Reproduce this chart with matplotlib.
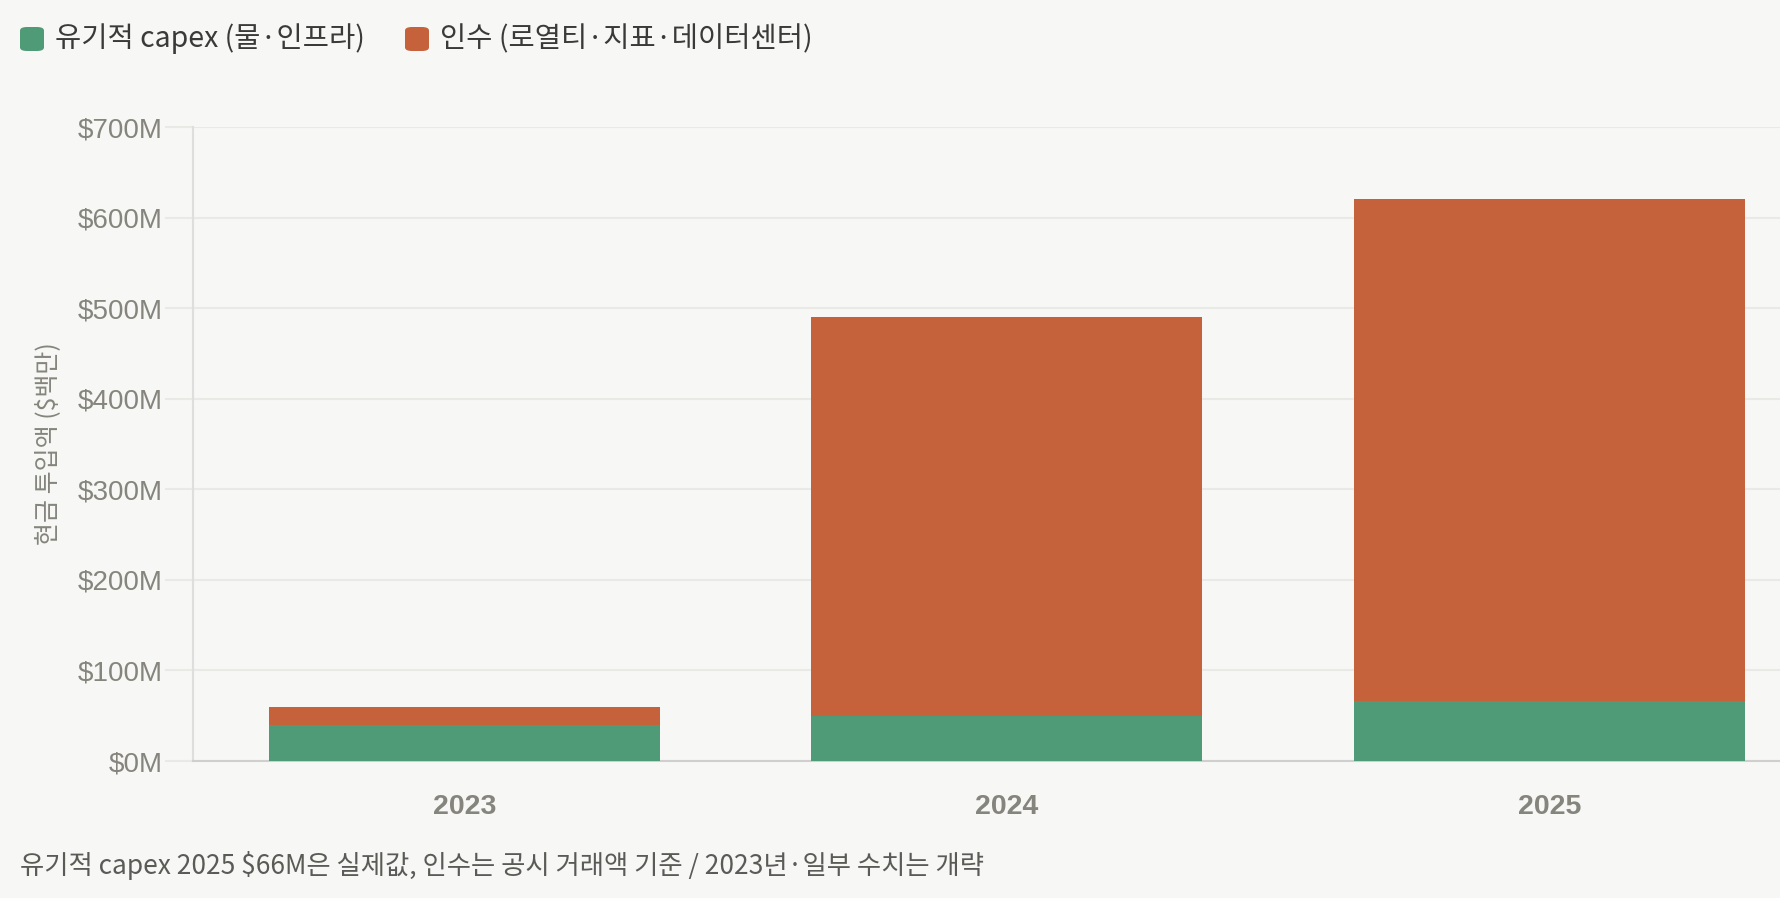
"""
현금 투입액: 유기적 capex vs 인수 (2023-2025), 누적 막대 차트
"""

import matplotlib
matplotlib.use("Agg")
import matplotlib.pyplot as plt
from matplotlib.patches import FancyBboxPatch

# === DATA ================================================================== #

years = ["2023", "2024", "2025"]
organic_capex = [40, 50, 66]        # $M, 유기적 capex (물·인프라)
acquisitions = [20, 440, 554]       # $M, 인수 (로열티·지표·데이터센터)
y_ticks = [0, 100, 200, 300, 400, 500, 600, 700]

legend_labels = ["유기적 capex (물·인프라)", "인수 (로열티·지표·데이터센터)"]
y_label = "현금 투입액 ($백만)"
footnote = "유기적 capex 2025 $66M은 실제값, 인수는 공시 거래액 기준 / 2023년·일부 수치는 개략"

# === STYLE ================================================================= #

BG = "#f7f7f5"
GREEN = "#4f9a77"
ORANGE = "#c5623b"
GRID = "#e9e9e6"
TICK_GRAY = "#85857d"
TEXT_DARK = "#3a3a38"

plt.rcParams["font.family"] = ["Liberation Sans", "Noto Sans CJK KR", "DejaVu Sans"]
KR = ["Noto Sans CJK KR", "DejaVu Sans"]

W, H = 1780, 898
fig = plt.figure(figsize=(W / 100, H / 100), dpi=100, facecolor=BG)

left, right_px, top_px, bottom_px = 193, 1780, 127, 761
ax = fig.add_axes([left / W, 1 - bottom_px / H,
                   (right_px - left) / W, (bottom_px - top_px) / H])
ax.set_facecolor(BG)

x = list(range(len(years)))
ax.bar(x, organic_capex, width=0.72, color=GREEN, zorder=3)
ax.bar(x, acquisitions, width=0.72, bottom=organic_capex, color=ORANGE, zorder=3)

band = 542.5
ax.set_xlim(-0.5, -0.5 + (right_px - left) / band)
ax.set_ylim(0, 700)

ax.set_yticks(y_ticks)
ax.set_yticklabels([f"${v}M" for v in y_ticks], fontsize=20, color=TICK_GRAY)
ax.set_xticks(x)
ax.set_xticklabels(years, fontsize=20.5, fontweight="bold", color=TICK_GRAY)

ax.grid(axis="y", color=GRID, linewidth=1.5, zorder=0)
ax.tick_params(axis="y", length=20, color=GRID, width=1.5, pad=2)
ax.tick_params(axis="x", length=0, pad=24)

for side in ["top", "right"]:
    ax.spines[side].set_visible(False)
ax.spines["left"].set_color("#dedede")
ax.spines["left"].set_linewidth(1.5)
ax.spines["bottom"].set_color("#cfcfcf")
ax.spines["bottom"].set_linewidth(1.5)

ax.set_ylabel(y_label, fontsize=18, color=TICK_GRAY, family=KR, labelpad=12)

# legend along the top: rounded swatches + labels
legend_y = 1 - 39 / H
swatch_x = [20, 405]
for sx, label, color in zip(swatch_x, legend_labels, [GREEN, ORANGE]):
    fig.patches.append(FancyBboxPatch(
        (sx / W, legend_y - 12 / H), 24 / W, 24 / H,
        boxstyle="round,pad=0,rounding_size=0.004",
        transform=fig.transFigure, facecolor=color, edgecolor="none"))
    fig.text((sx + 35) / W, legend_y, label, fontsize=20.5, color=TEXT_DARK,
             family=KR, va="center", ha="left")

fig.text(20 / W, 1 - 866 / H, footnote, fontsize=19, color="#5a5a56",
         family=KR, va="center", ha="left")

fig.savefig("out.png", dpi=100, facecolor=BG)
